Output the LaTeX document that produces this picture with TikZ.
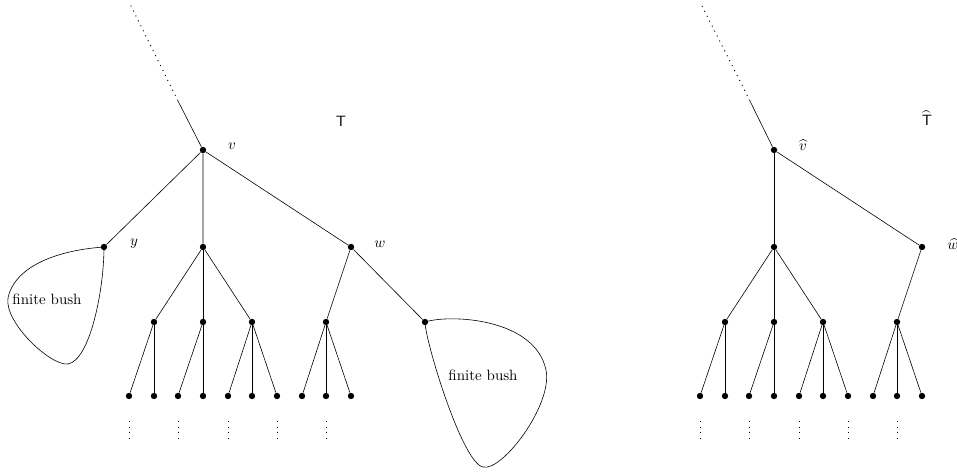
\documentclass[tikz,border=0pt]{standalone}
\usepackage{amsmath, amssymb}
\tikzstyle{vx}=[shape=circle, minimum size=1.5mm, inner sep=0, fill=black]
\tikzstyle{pt}=[inner sep=0, minimum size=0]
\tikzstyle{dotline}=[line width=0.6pt, dash pattern=on 0.7pt off 3pt]

\begin{document}
\begin{tikzpicture}[x=0.0235cm, y=-0.0235cm]
\useasboundingbox (0,0) rectangle (957,473);
% tree T
\node[vx] (v) at (203,150) {};
\node[pt] (vtop) at (178,101) {};
\node[pt] (vfar) at (129,2) {};
\node[vx] (y) at (104,247) {};
\node[vx] (m) at (203,247) {};
\node[vx] (w) at (351,247) {};
\node[vx] (b) at (425,322) {};
\foreach \x [count=\i] in {154,203,252,326}
\node[vx] (c\i) at (\x,322) {};
\foreach \x [count=\i] in {129,154,178,203,228,252,277,302,326,351}
{
\node[vx] (l\i) at (\x,396) {};
\node[pt] (d\i) at (\x,421) {};
\node[pt] (e\i) at (\x,443) {};
}
\draw (v) -- (vtop);
\draw[dotline] (vtop) -- (vfar);
\draw (y) -- (v) -- (m);
\draw (v) -- (w);
\foreach \c in {1,2,3}
\draw (m) -- (c\c);
\draw (w) -- (c4);
\draw (w) -- (b);
\foreach \c/\l in {1/1,1/2,2/3,2/4,3/5,3/6,3/7,4/8,4/9,4/10}
\draw (c\c) -- (l\l);
\foreach \i in {1,3,5,7,9}
\draw[dotline] (d\i) -- (e\i);
\draw (y.center) .. controls (60,250) and (15,265) .. (8,298) .. controls (4,322) and (50,366) .. (68,364) .. controls (90,360) and (104,290) .. (y.center);
\draw (b.center) .. controls (450,314) and (535,318) .. (546,370) .. controls (553,405) and (502,472) .. (483,467) .. controls (462,463) and (425,340) .. (b.center);
\node (bushy) at (47,299) {finite bush};
\node (bushb) at (483,375) {finite bush};
\node (lv) at (232,146) {$v$};
\node (ly) at (134,244) {$y$};
\node (lw) at (380,244) {$w$};
\node (lT) at (341,121) {$\mathsf{T}$};
% tree hat T
\node[vx] (hv) at (774,150) {};
\node[pt] (hvtop) at (750,101) {};
\node[pt] (hvfar) at (700,2) {};
\node[vx] (hm) at (774,247) {};
\node[vx] (hw) at (922,247) {};
\foreach \x [count=\i] in {725,774,823,897}
\node[vx] (hc\i) at (\x,322) {};
\foreach \x [count=\i] in {700,725,749,774,799,823,848,873,897,922}
{
\node[vx] (hl\i) at (\x,396) {};
\node[pt] (hd\i) at (\x,421) {};
\node[pt] (he\i) at (\x,443) {};
}
\draw (hv) -- (hvtop);
\draw[dotline] (hvtop) -- (hvfar);
\draw (hv) -- (hm);
\draw (hv) -- (hw);
\foreach \c in {1,2,3}
\draw (hm) -- (hc\c);
\draw (hw) -- (hc4);
\foreach \c/\l in {1/1,1/2,2/3,2/4,3/5,3/6,3/7,4/8,4/9,4/10}
\draw (hc\c) -- (hl\l);
\foreach \i in {1,3,5,7,9}
\draw[dotline] (hd\i) -- (he\i);
\node (lhv) at (803,145) {$\widehat{v}$};
\node (lhw) at (953,244) {$\widehat{w}$};
\node (lhT) at (927,118) {$\widehat{\mathsf{T}}$};
\end{tikzpicture}
\end{document}
